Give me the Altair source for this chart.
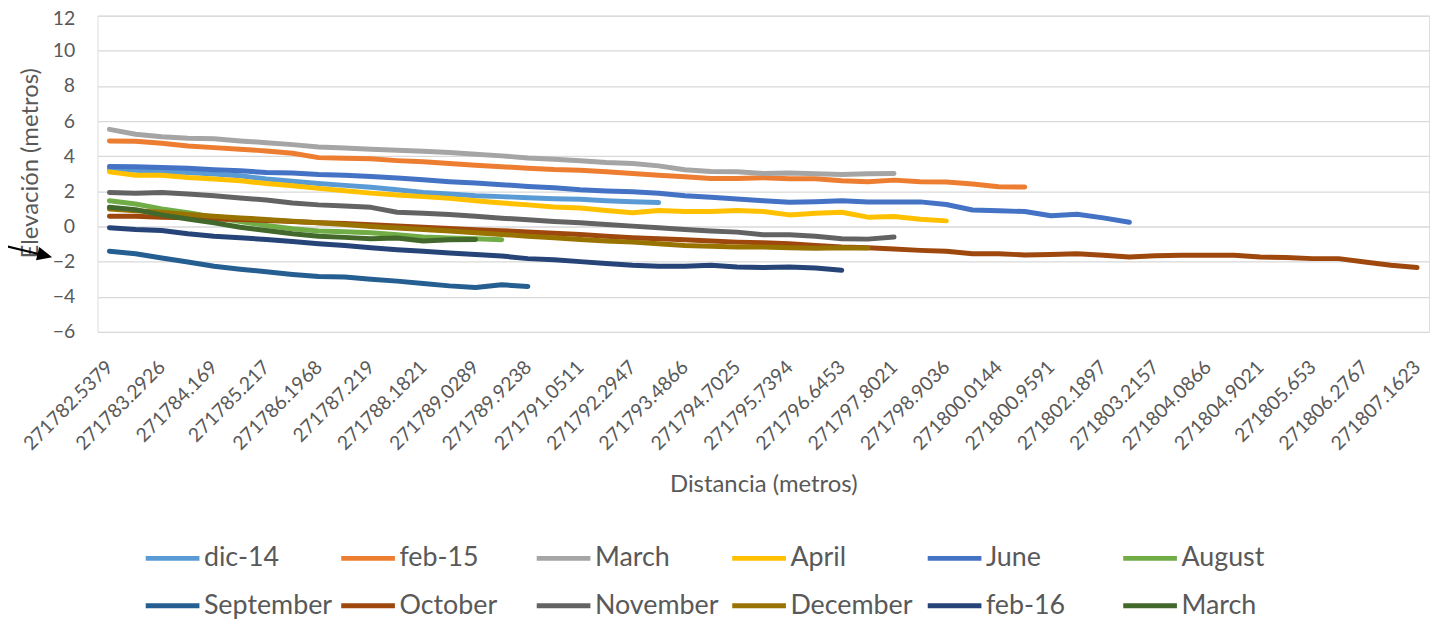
import altair as alt
import pandas as pd

# ---- tick labels of the category axis (every second category is labelled)
x_labels = ["271782.5379", "271783.2926", "271784.169", "271785.217", "271786.1968",
            "271787.219", "271788.1821", "271789.0289", "271789.9238", "271791.0511",
            "271792.2947", "271793.4866", "271794.7025", "271795.7394", "271796.6453",
            "271797.8021", "271798.9036", "271800.0144", "271800.9591", "271802.1897",
            "271803.2157", "271804.0866", "271804.9021", "271805.653", "271806.2767",
            "271807.1623"]

# ---- series names and colours (legend order)
series_names = ["dic-14", "feb-15", "March", "April", "June", "August",
                "September", "October", "November", "December", "feb-16", "March"]
series_colors = ["#5B9BD5", "#ED7D31", "#A5A5A5", "#FFC000", "#4472C4", "#70AD47",
                 "#255E91", "#9E480E", "#636363", "#997300", "#264478", "#43682B"]

# ---- elevation values (metres), one per category index starting at 0
dic_14 = [3.28, 3.20, 3.11, 3.07, 2.98, 2.89, 2.70, 2.57, 2.45, 2.34, 2.23, 2.09, 1.94,
          1.85, 1.75, 1.70, 1.64, 1.58, 1.55, 1.47, 1.41, 1.36]
feb_15 = [4.87, 4.85, 4.74, 4.58, 4.49, 4.40, 4.30, 4.17, 3.92, 3.89, 3.85, 3.75, 3.68,
          3.58, 3.49, 3.40, 3.32, 3.24, 3.20, 3.11, 3.02, 2.92, 2.83, 2.73, 2.73, 2.77,
          2.72, 2.72, 2.60, 2.55, 2.64, 2.55, 2.53, 2.42, 2.26, 2.25]
march_15 = [5.53, 5.25, 5.11, 5.02, 5.00, 4.87, 4.77, 4.66, 4.53, 4.47, 4.40, 4.34, 4.28,
            4.21, 4.11, 4.02, 3.90, 3.83, 3.74, 3.64, 3.58, 3.45, 3.23, 3.13, 3.11, 3.02,
            3.04, 3.00, 2.96, 3.00, 3.02]
april = [3.11, 2.92, 2.92, 2.79, 2.70, 2.60, 2.45, 2.32, 2.17, 2.04, 1.90, 1.79, 1.70,
         1.60, 1.47, 1.34, 1.23, 1.11, 1.05, 0.91, 0.78, 0.91, 0.85, 0.85, 0.91, 0.85,
         0.66, 0.75, 0.81, 0.53, 0.57, 0.41, 0.32]
june = [3.41, 3.40, 3.36, 3.32, 3.23, 3.17, 3.07, 3.04, 2.96, 2.92, 2.85, 2.76, 2.66,
        2.55, 2.47, 2.38, 2.28, 2.21, 2.09, 2.02, 1.98, 1.89, 1.75, 1.66, 1.57, 1.47,
        1.38, 1.41, 1.47, 1.40, 1.40, 1.40, 1.25, 0.94, 0.89, 0.85, 0.61, 0.70, 0.49, 0.24]
august = [1.47, 1.28, 1.00, 0.78, 0.53, 0.28, 0.06, -0.13, -0.26, -0.30, -0.36, -0.47,
          -0.60, -0.66, -0.70, -0.75]
september = [-1.41, -1.55, -1.79, -2.02, -2.26, -2.43, -2.58, -2.73, -2.85, -2.88, -3.00,
             -3.11, -3.24, -3.38, -3.47, -3.32, -3.41]
october = [0.58, 0.58, 0.53, 0.49, 0.43, 0.40, 0.34, 0.28, 0.21, 0.17, 0.10, 0.03, -0.04,
           -0.11, -0.18, -0.24, -0.31, -0.38, -0.45, -0.55, -0.64, -0.70, -0.75, -0.83,
           -0.89, -0.92, -0.98, -1.08, -1.17, -1.21, -1.28, -1.36, -1.41, -1.55, -1.55,
           -1.62, -1.60, -1.55, -1.64, -1.74, -1.66, -1.64, -1.64, -1.64, -1.74, -1.77,
           -1.83, -1.83, -2.02, -2.21, -2.34]
november = [1.94, 1.89, 1.94, 1.85, 1.75, 1.62, 1.51, 1.34, 1.23, 1.17, 1.09, 0.81, 0.75,
            0.68, 0.58, 0.47, 0.38, 0.28, 0.21, 0.11, 0.02, -0.07, -0.17, -0.26, -0.32,
            -0.47, -0.47, -0.56, -0.70, -0.72, -0.60]
december = [1.00, 0.90, 0.81, 0.68, 0.58, 0.49, 0.40, 0.30, 0.21, 0.11, 0.00, -0.09, -0.17,
            -0.26, -0.36, -0.45, -0.55, -0.64, -0.74, -0.83, -0.89, -0.98, -1.08, -1.13,
            -1.17, -1.17, -1.21, -1.24, -1.21, -1.23]
feb_16 = [-0.07, -0.17, -0.23, -0.41, -0.55, -0.64, -0.74, -0.85, -0.98, -1.08, -1.21,
          -1.32, -1.41, -1.51, -1.60, -1.68, -1.83, -1.89, -2.00, -2.11, -2.21, -2.26,
          -2.26, -2.21, -2.30, -2.34, -2.30, -2.36, -2.49]
march_16 = [1.09, 0.96, 0.66, 0.43, 0.21, -0.04, -0.23, -0.41, -0.55, -0.62, -0.70, -0.66,
            -0.83, -0.75, -0.74]

series_values = [dic_14, feb_15, march_15, april, june, august,
                 september, october, november, december, feb_16, march_16]

# ---- long table
keys = [f"{k + 1:02d}|{n}" for k, n in enumerate(series_names)]
rows = []
for key, vals in zip(keys, series_values):
    for i, v in enumerate(vals):
        rows.append({"serie": key, "idx": i, "elev": v})
df = pd.DataFrame(rows)

n_cat = 2 * (len(x_labels) - 1)  # 50 -> categories 0..50
FONT = "Lato"
TXT = "#595959"

label_array = "[" + ",".join(f"'{l}'" for l in x_labels) + "]"

lines = alt.Chart(df).mark_line(
    strokeWidth=5, strokeCap="round", strokeJoin="round"
).encode(
    x=alt.X(
        "idx:Q",
        scale=alt.Scale(domain=[-0.456, n_cat + 0.456], nice=False, zero=False),
        axis=alt.Axis(
            values=list(range(0, n_cat + 1, 2)),
            labelExpr=label_array + "[round(datum.value/2)]",
            labelAngle=-45, labelAlign="right", labelBaseline="middle",
            labelPadding=32, labelFont=FONT, labelFontSize=19.5, labelColor=TXT,
            labelOverlap=False, labelFlush=False, labelBound=False,
            domain=False, ticks=False, grid=False,
            title="Distancia (metros)", titleFont=FONT, titleFontSize=24,
            titleFontWeight="normal", titleColor=TXT,
            titleX=669.5, titleY=154, titleAlign="center", titleBaseline="middle",
        ),
    ),
    y=alt.Y(
        "elev:Q",
        scale=alt.Scale(domain=[-6, 12], nice=False, zero=False),
        axis=alt.Axis(
            values=list(range(-6, 13, 2)),
            labelPadding=23, labelFont=FONT, labelFontSize=19.5, labelColor=TXT,
            labelOffset={"condition": {"test": "datum.value == 12", "value": 2.5}, "value": 0},
            domain=False, ticks=False, grid=True, gridColor="#D9D9D9", gridWidth=1.3,
            title="Elevación (metros)", titleFont=FONT, titleFontSize=24,
            titleFontWeight="normal", titleColor=TXT,
            titleX=-67, titleY=148, titleAlign="center", titleBaseline="middle",
            titleAngle=270,
        ),
    ),
    color=alt.Color(
        "serie:N",
        scale=alt.Scale(domain=keys, range=series_colors),
        legend=alt.Legend(
            title=None, orient="none", legendX=46, legendY=516,
            direction="horizontal", columns=6, gridAlign="all",
            symbolType="stroke", symbolSize=2916, symbolStrokeWidth=5,
            labelFont=FONT, labelFontSize=27, labelColor=TXT, labelOffset=2,
            labelLimit=400, columnPadding=-2.4, rowPadding=5, padding=0,
            labelExpr="split(datum.label, '|')[1]",
        ),
    ),
)

# arrow annotation (shaft + head drawn as one symbol, rotated)
anchor = pd.DataFrame({"a": [0]})
arrow = alt.Chart(anchor).mark_point(
    shape="M-1,-0.045 L0.348,-0.045 L0.348,-0.3 L1,0 L0.348,0.3 L0.348,0.045 L-1,0.045 Z",
    filled=True, color="black", opacity=1, size=2116, angle=13.4, strokeWidth=0,
).encode(x=alt.value(-68), y=alt.value(237.5))

chart = alt.layer(lines, arrow).properties(
    width=1339, height=318,
    autosize=alt.AutoSizeParams(type="none"),
    padding={"left": 90, "top": 6, "right": 2, "bottom": 287},
).configure_view(stroke=None).configure(background="white")

chart.save("out.html", embed_options={"renderer": "svg", "actions": False})
